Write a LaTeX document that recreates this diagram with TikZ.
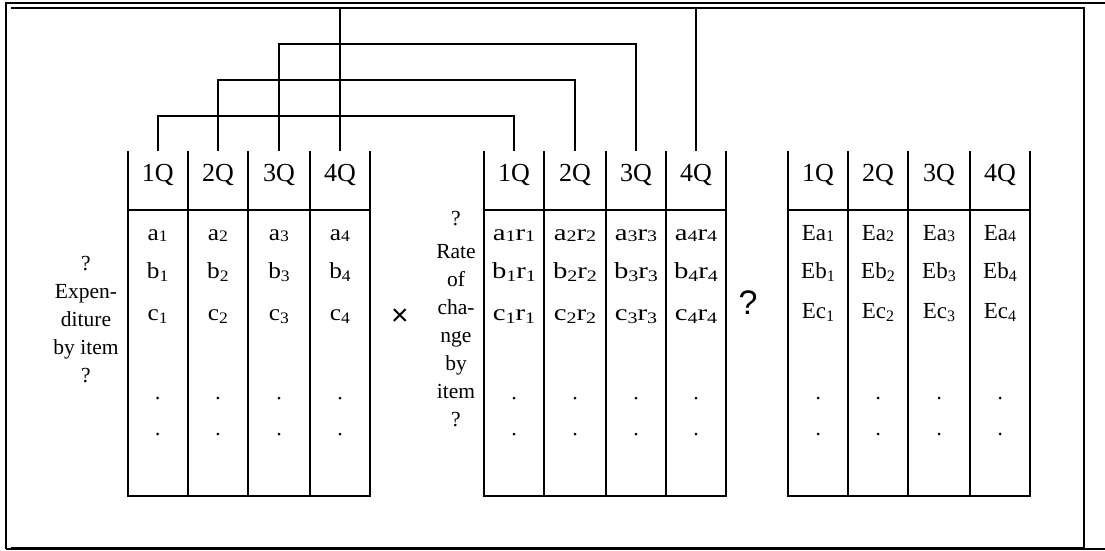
\documentclass[tikz,border=0pt]{standalone}
\usepackage{fontspec}
\setmainfont{Liberation Serif}
\newfontfamily\sansfam{Liberation Sans}
\newcommand\hdrfont{\fontsize{26}{30}\selectfont}
\newcommand\cellfont{\fontsize{23}{27}\selectfont}
\newcommand\lblfont{\fontsize{21.5}{26}\selectfont}
\newcommand\sbx[2][3]{\raisebox{-#1pt}{\fontsize{16}{16}\selectfont #2}}
\newcommand\wide[1]{\scalebox{1.25}[1]{#1}}
\newcommand\drawgrid[5]{%
  \draw (#1,151) -- (#1,496) -- (#5,496) -- (#5,151);
  \draw (#2,151) -- (#2,496);
  \draw (#3,151) -- (#3,496);
  \draw (#4,151) -- (#4,496);
  \draw (#1,210) -- (#5,210);}
\begin{document}
\begin{tikzpicture}[x=1pt,y=-1pt,line width=2pt,
  hdr/.style={font=\hdrfont,anchor=base,inner sep=0pt},
  cell/.style={font=\cellfont,anchor=base,inner sep=0pt},
  lbl/.style={font=\lblfont,anchor=base,inner sep=0pt},
  conn/.style={line width=2pt}]
\useasboundingbox (0,0) rectangle (1105,550);
% frames
\draw (4.7,2.7) -- (1105,2.7);
\draw (5.7,1.7) -- (5.7,549);
\draw[line width=1.2pt] (5.7,549) -- (1105,549);
\draw (11,7.7) -- (1084,7.7) -- (1084,548) -- (11,548);
% grids
\drawgrid{127.7}{187.7}{248}{310}{370}
\drawgrid{484}{544}{606}{666}{725.7}
\drawgrid{788}{847.7}{908}{970}{1029.7}
% left table
\foreach \n/\x in {1/157.7,2/217.9,3/279,4/340}{
  \node[hdr] (L\n) at (\x,181) {\n Q};
  \node[cell] (La\n) at (\x,240) {\scalebox{1.1}[1]{a\sbx[1]{\n}}};
  \node[cell] (Lb\n) at (\x,278) {\scalebox{1.1}[1]{b\sbx{\n}}};
  \node[cell] (Lc\n) at (\x,320) {\scalebox{1.1}[1]{c\sbx{\n}}};
  \fill (\x,398) circle (1.5);
  \fill (\x,434) circle (1.5);
}
% middle table
\foreach \n/\x in {1/514,2/575,3/636,4/696}{
  \node[hdr] (M\n) at (\x,181) {\n Q};
  \node[cell] (Ma\n) at (\x,240) {\wide{a\sbx[1]{\n}r\sbx[1]{\n}}};
  \node[cell] (Mb\n) at (\x,278) {\wide{b\sbx{\n}r\sbx{\n}}};
  \node[cell] (Mc\n) at (\x,320) {\wide{c\sbx{\n}r\sbx{\n}}};
  \fill (\x,398) circle (1.5);
  \fill (\x,434) circle (1.5);
}
% right table
\foreach \n/\x in {1/818,2/878,3/939,4/1000}{
  \node[hdr] (R\n) at (\x,181) {\n Q};
  \node[cell] (Ra\n) at (\x,240) {Ea\sbx[1]{\n}};
  \node[cell] (Rb\n) at (\x,278) {Eb\sbx{\n}};
  \node[cell] (Rc\n) at (\x,318) {Ec\sbx{\n}};
  \fill (\x,398) circle (1.5);
  \fill (\x,434) circle (1.5);
}
% labels
\foreach \i/\t/\y in {1/?/270,2/Expen-/298,3/diture/326,4/by item/354,5/?/382}
  \node[lbl] (el\i) at (86,\y) {\t};
\foreach \i/\t/\y in {1/?/225,2/Rate/258,3/of/286,4/cha-/314,5/nge/342,6/by/370,7/item/398,8/?/426}
  \node[lbl] (rl\i) at (456,\y) {\t};
\node[font=\sansfam\fontsize{30}{30}\selectfont, inner sep=0pt] (mul) at (400,317) {×};
\node[font=\sansfam\fontsize{34}{34}\selectfont, inner sep=0pt] (eq) at (748,303) {?};
% connectors
\coordinate (tabtop) at (0,151);
\coordinate (lv1) at (0,116);
\coordinate (lv2) at (0,80);
\coordinate (lv3) at (0,44);
\coordinate (lv4) at (0,7.7);
\draw[conn] (L1 |- tabtop) -- (L1 |- lv1) -- (M1 |- lv1) -- (M1 |- tabtop);
\draw[conn] (L2 |- tabtop) -- (L2 |- lv2) -- (M2 |- lv2) -- (M2 |- tabtop);
\draw[conn] (L3 |- tabtop) -- (L3 |- lv3) -- (M3 |- lv3) -- (M3 |- tabtop);
\draw[conn] (L4 |- tabtop) -- (L4 |- lv4);
\draw[conn] (M4 |- tabtop) -- (M4 |- lv4);
\end{tikzpicture}
\end{document}
